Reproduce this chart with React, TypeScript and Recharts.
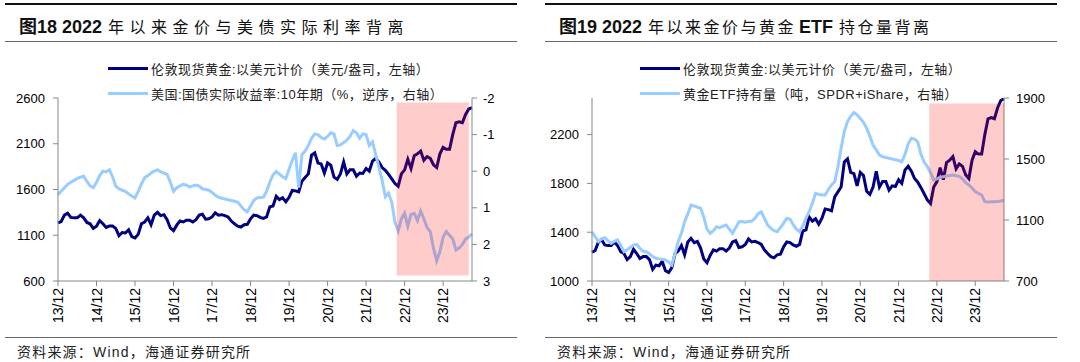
import React from 'react';
import { LineChart, Line, XAxis, YAxis, ReferenceArea } from 'recharts';

// x tick labels, one per December (data is monthly, Dec 2013 .. Sep 2024)
const tickLabels = ['13/12', '14/12', '15/12', '16/12', '17/12', '18/12', '19/12', '20/12', '21/12', '22/12', '23/12'];

// London spot gold, USD/oz
const goldPrice = [
  1235,
  1250, 1320, 1340, 1295, 1290, 1290, 1320, 1290, 1240, 1225, 1175, 1200,
  1260, 1225, 1185, 1200, 1200, 1175, 1095, 1130, 1125, 1160, 1085, 1070,
  1110, 1225, 1245, 1290, 1215, 1320, 1350, 1315, 1325, 1270, 1180, 1150,
  1210, 1255, 1245, 1265, 1265, 1245, 1270, 1320, 1330, 1275, 1280, 1300,
  1345, 1320, 1325, 1315, 1300, 1255, 1225, 1200, 1190, 1215, 1220, 1280,
  1320, 1315, 1295, 1285, 1300, 1410, 1420, 1525, 1490, 1510, 1465, 1515,
  1590, 1585, 1575, 1690, 1730, 1770, 1975, 2000, 1890, 1880, 1780, 1890,
  1865, 1735, 1710, 1770, 1900, 1770, 1815, 1815, 1745, 1780, 1775, 1830,
  1800, 1910, 1940, 1900, 1840, 1810, 1765, 1715, 1665, 1635, 1770, 1815,
  1930, 1830, 1970, 1990, 2020, 1920, 1960, 1940, 1870, 1840, 1990, 2060,
  2040, 2040, 2200, 2330, 2340, 2330, 2420, 2480, 2495,
];

// US 10y TIPS real yield, %
const realYield = [
  0.64,
  0.55, 0.45, 0.36, 0.30, 0.25, 0.20, 0.16, 0.14, 0.28, 0.40, 0.45, 0.30,
  0.12, 0.00, 0.02, -0.04, 0.15, 0.41, 0.48, 0.52, 0.55, 0.62, 0.68, 0.73,
  0.55, 0.35, 0.18, 0.12, 0.05, 0.00, -0.04, 0.02, 0.05, 0.09, 0.30, 0.55,
  0.45, 0.40, 0.36, 0.38, 0.43, 0.40, 0.38, 0.41, 0.48, 0.50, 0.52, 0.58,
  0.66, 0.71, 0.74, 0.76, 0.78, 0.80, 0.82, 0.85, 0.95, 1.05, 1.11, 0.95,
  0.80, 0.73, 0.72, 0.71, 0.55, 0.30, 0.10, 0.01, 0.08, 0.15, 0.20, -0.05,
  -0.30, -0.50, 0.45, -0.45, -0.55, -0.70, -0.90, -1.02, -1.00, -0.92, -0.88, -0.95,
  -1.05, -1.02, -0.70, -0.72, -0.78, -0.85, -0.95, -1.11, -1.05, -0.90, -1.02, -1.00,
  -0.70, -0.80, -0.45, -0.10, 0.25, 0.70, 0.60, 0.85, 1.40, 1.63, 1.30, 1.15,
  1.50, 1.18, 1.15, 1.35, 1.09, 1.30, 1.54, 1.65, 2.10, 2.45, 2.20, 1.80,
  1.65, 1.75, 1.85, 2.15, 2.10, 2.00, 1.85, 1.80, 1.71,
];

// gold ETF holdings, tonnes (SPDR + iShares)
const etfHolding = [
  1023,
  990, 958, 975, 984, 965, 947, 960, 969, 935, 892, 905, 920,
  935, 940, 915, 895, 892, 878, 860, 849, 845, 842, 838, 825,
  805, 880, 960, 1013, 1089, 1140, 1198, 1192, 1185, 1177, 1120, 1040,
  1013, 1030, 1056, 1050, 1060, 1067, 1040, 1013, 1050, 1089, 1090, 1085,
  1090, 1093, 1110, 1140, 1154, 1110, 1067, 1045, 1030, 1023, 1050, 1080,
  1111, 1105, 1070, 1040, 1023, 1060, 1110, 1154, 1210, 1275, 1268, 1264,
  1264, 1300, 1330, 1351, 1450, 1570, 1680, 1745, 1780, 1805, 1790, 1765,
  1740, 1701, 1650, 1592, 1560, 1526, 1515, 1510, 1505, 1500, 1495, 1490,
  1482, 1530, 1600, 1636, 1630, 1613, 1530, 1480, 1450, 1410, 1362, 1370,
  1380, 1384, 1388, 1392, 1395, 1390, 1386, 1370, 1345, 1330, 1310, 1286,
  1275, 1264, 1220, 1218, 1220, 1220, 1222, 1225, 1230,
];

const data = goldPrice.map((g, i) => ({ i, gold: g, realYield: realYield[i], etf: etfHolding[i] }));
const xTicks = tickLabels.map((_, k) => k * 12);

const NAVY = '#000080';
const LIGHT = '#99CCFF';
const LATIN = '"Liberation Sans", Arial, "Noto Sans CJK SC", sans-serif';
const CJK = '"Noto Sans CJK SC", sans-serif';
const axisStroke = '#888';

const XTick = ({ x, y, payload }: any) => (
  <text
    x={x}
    y={y}
    transform={`rotate(-90, ${x}, ${y})`}
    textAnchor="end"
    dominantBaseline="central"
    fontSize={14}
    fontFamily={LATIN}
    fill="#000"
  >
    {tickLabels[Math.round(payload.value / 12)]}
  </text>
);

const yTickStyle = { fontSize: 13, fontFamily: LATIN, fill: '#000' };

const LegendRow = ({ top, left, color, text }: any) => (
  <div style={{ position: 'absolute', top, left, display: 'flex', alignItems: 'center', height: 16 }}>
    <div style={{ width: 40, height: 3, background: color }} />
    <span style={{ marginLeft: 3, fontSize: 13, letterSpacing: 0.5, fontFamily: LATIN, color: '#222', whiteSpace: 'nowrap' }}>
      {text}
    </span>
  </div>
);

// title parts: [text, isLatin]
const Frame = ({ left, parts, spacing }: any) => (
  <>
    <div style={{ position: 'absolute', left: left + 5, top: 3, width: 512, borderTop: '2px solid #111' }} />
    <div style={{ position: 'absolute', left: left + 19, top: 14, height: 24, lineHeight: '24px', whiteSpace: 'nowrap', color: '#111' }}>
      {parts.map(([t, latin]: any, k: number) =>
        latin ? (
          <span key={k} style={{ fontFamily: LATIN, fontWeight: 'bold', fontSize: 18, marginRight: 6, marginLeft: k > 0 ? 3 : 0 }}>{t}</span>
        ) : (
          <span key={k} style={{ fontFamily: CJK, fontSize: 16, letterSpacing: spacing }}>{t}</span>
        )
      )}
    </div>
    <div style={{ position: 'absolute', left: left + 5, top: 41, width: 512, borderTop: '1.5px solid #666' }} />
    <div style={{ position: 'absolute', left: left + 5, top: 337, width: 512, borderTop: '1.5px solid #666' }} />
    <div style={{ position: 'absolute', left: left + 17, top: 343, lineHeight: '18px', fontSize: 14, letterSpacing: 1.2, fontFamily: LATIN, color: '#222', whiteSpace: 'nowrap' }}>
      资料来源：Wind，海通证券研究所
    </div>
  </>
);

// axes shared by the drawn chart and the shading overlay (same plot area)
const axes = (cfg: any, visible: boolean) => {
  const vis = visible
    ? { stroke: axisStroke, tickSize: 5 }
    : { tick: false, axisLine: false, tickLine: false };
  return [
    <XAxis
      key="x"
      dataKey="i"
      type="number"
      domain={[0, 129]}
      ticks={xTicks}
      interval={0}
      height={50}
      tick={<XTick />}
      tickMargin={2}
      {...vis}
    />,
    <YAxis
      key="yl"
      yAxisId="left"
      domain={cfg.leftDomain}
      ticks={cfg.leftTicks}
      width={50}
      tick={yTickStyle}
      tickMargin={8}
      allowDataOverflow
      {...vis}
    />,
    <YAxis
      key="yr"
      yAxisId="right"
      orientation="right"
      reversed={cfg.rightReversed}
      domain={cfg.rightDomain}
      ticks={cfg.rightTicks}
      width={50}
      tick={yTickStyle}
      tickMargin={cfg.rightMargin}
      allowDataOverflow
      {...vis}
    />,
  ];
};

const Panel = ({ left, cfg, rightKey, area }: any) => (
  <>
    <div style={{ position: 'absolute', left, top: 0 }}>
      <LineChart width={540} height={362} data={data} margin={cfg.margin}>
        {axes(cfg, true)}
        <Line yAxisId="left" dataKey="gold" stroke={NAVY} strokeWidth={3} dot={false} isAnimationActive={false} />
        <Line yAxisId="right" dataKey={rightKey} stroke={LIGHT} strokeWidth={3} dot={false} isAnimationActive={false} />
      </LineChart>
    </div>
    {/* translucent shading drawn above the lines */}
    <div style={{ position: 'absolute', left, top: 0, pointerEvents: 'none' }}>
      <LineChart width={540} height={362} data={data} margin={cfg.margin}>
        {axes(cfg, false)}
        <ReferenceArea yAxisId="left" x1={area[0]} x2={area[1]} y1={area[2]} y2={area[3]} fill="#FF0000" fillOpacity={0.2} stroke="none" />
      </LineChart>
    </div>
  </>
);

const leftCfg = {
  margin: { top: 98, right: 18, left: 8, bottom: 31 },
  leftDomain: [600, 2600],
  leftTicks: [600, 1100, 1600, 2100, 2600],
  rightDomain: [-2, 3],
  rightTicks: [-2, -1, 0, 1, 2, 3],
  rightReversed: true,
  rightMargin: 6,
};

const rightCfg = {
  margin: { top: 98, right: 26, left: 2, bottom: 31 },
  leftDomain: [1000, 2500],
  leftTicks: [1000, 1400, 1800, 2200],
  rightDomain: [700, 1900],
  rightTicks: [700, 1100, 1500, 1900],
  rightReversed: false,
  rightMargin: 7,
};

const App: React.FC = () => {
  return (
    <div style={{ position: 'absolute', left: 0, top: 0, width: 1080, height: 362, background: '#fff', overflow: 'hidden' }}>
      {/* left panel: gold vs real yield */}
      <Frame left={0} spacing={5.5} parts={[['图18 2022', true], ['年以来金价与美债实际利率背离', false]]} />
      <Panel left={0} cfg={leftCfg} rightKey="realYield" area={[105.5, 128, 659, 2550]} />
      <LegendRow top={60} left={108} color={NAVY} text="伦敦现货黄金:以美元计价（美元/盎司，左轴）" />
      <LegendRow top={85} left={108} color={LIGHT} text="美国:国债实际收益率:10年期（%，逆序，右轴）" />

      {/* right panel: gold vs ETF holdings */}
      <Frame left={540} spacing={2.5} parts={[['图19 2022', true], ['年以来金价与黄金', false], ['ETF', true], ['持仓量背离', false]]} />
      <Panel left={540} cfg={rightCfg} rightKey="etf" area={[105.6, 129, 1000, 2454]} />
      <LegendRow top={60} left={640} color={NAVY} text="伦敦现货黄金:以美元计价（美元/盎司，左轴）" />
      <LegendRow top={85} left={640} color={LIGHT} text="黄金ETF持有量（吨，SPDR+iShare，右轴）" />
    </div>
  );
};

export default App;
